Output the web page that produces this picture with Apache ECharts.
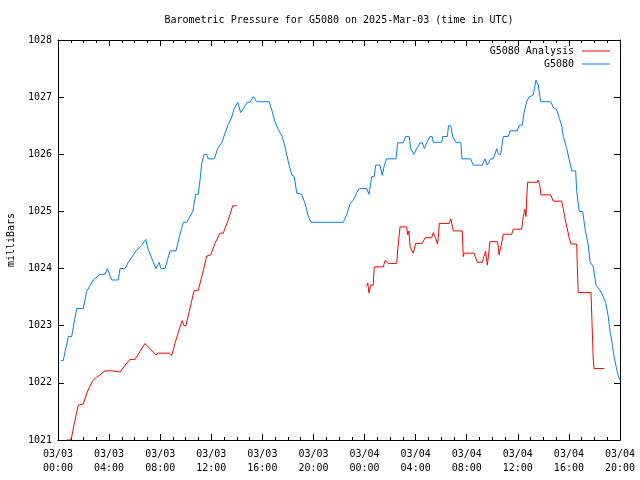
<!DOCTYPE html>
<html><head><meta charset="utf-8">
<script src="https://cdn.jsdelivr.net/npm/echarts@6/dist/echarts.min.js"></script>
<style>html,body{margin:0;padding:0;background:#fff}#c{width:640px;height:480px}</style>
</head><body><div id="c"></div>
<script>
// hours since 2025-03-03 00:00 UTC
const xTickLabels = ["03/03\n00:00","03/03\n04:00","03/03\n08:00","03/03\n12:00","03/03\n16:00","03/03\n20:00","03/04\n00:00","03/04\n04:00","03/04\n08:00","03/04\n12:00","03/04\n16:00","03/04\n20:00"];
const yTicks = [1021,1022,1023,1024,1025,1026,1027,1028];

const blueHours = [0.23,0.41,0.81,1.07,1.46,1.98,2.25,2.76,3.29,3.68,3.86,4.20,4.72,4.85,5.25,5.50,6.11,6.55,6.87,7.07,7.67,7.91,8.06,8.38,8.77,9.24,9.55,9.81,10.08,10.55,10.78,10.98,11.12,11.25,11.43,11.64,11.77,12.24,12.50,12.86,13.07,13.33,13.60,13.80,14.07,14.30,14.51,14.82,15.03,15.29,15.56,16.54,16.73,16.99,17.25,17.56,17.77,18.03,18.30,18.50,18.69,19.08,19.34,19.60,19.81,22.34,22.60,22.86,23.12,23.39,23.59,24.17,24.35,24.48,24.56,24.76,24.87,25.21,25.39,25.55,25.73,26.46,26.59,27.03,27.22,27.50,27.61,27.87,28.08,28.34,28.52,28.68,28.87,29.12,29.30,29.38,30.04,30.12,30.49,30.57,30.74,30.90,31.16,31.53,31.63,32.31,32.51,33.22,33.43,33.61,33.74,33.88,34.08,34.35,34.47,34.66,34.86,35.25,35.39,35.96,36.12,36.35,36.48,36.69,36.87,37.21,37.42,37.60,37.79,38.57,38.78,39.04,39.25,39.43,39.56,39.83,40.03,40.22,40.53,40.61,40.81,41.08,41.26,41.52,41.65,41.91,42.12,42.43,42.69,42.90,43.08,43.22,43.35,43.49,43.70,43.88,44.0];
const bluePressure = [1022.39,1022.39,1022.81,1022.81,1023.30,1023.30,1023.60,1023.80,1023.90,1023.90,1024.0,1023.80,1023.80,1024.0,1024.0,1024.11,1024.31,1024.41,1024.51,1024.33,1024.0,1024.11,1024.0,1024.0,1024.31,1024.31,1024.60,1024.81,1024.81,1025.0,1025.30,1025.30,1025.55,1025.84,1025.99,1026.0,1025.92,1025.92,1026.10,1026.22,1026.37,1026.52,1026.65,1026.80,1026.91,1026.73,1026.80,1026.91,1026.91,1027.01,1026.92,1026.92,1026.78,1026.57,1026.43,1026.31,1026.13,1025.87,1025.64,1025.61,1025.32,1025.30,1025.14,1024.91,1024.81,1024.81,1024.94,1025.13,1025.20,1025.33,1025.40,1025.40,1025.30,1025.30,1025.61,1025.61,1025.81,1025.81,1025.63,1025.81,1025.92,1025.92,1026.20,1026.20,1026.31,1026.31,1026.10,1026.0,1026.1,1026.2,1026.2,1026.1,1026.2,1026.31,1026.31,1026.21,1026.21,1026.31,1026.31,1026.50,1026.50,1026.31,1026.21,1026.21,1025.92,1025.92,1025.81,1025.81,1025.92,1025.81,1025.81,1025.92,1025.92,1026.1,1026.0,1026.0,1026.31,1026.31,1026.41,1026.41,1026.51,1026.51,1026.72,1026.92,1027.0,1027.04,1027.30,1027.21,1026.92,1026.92,1026.82,1026.78,1026.63,1026.51,1026.31,1026.1,1025.90,1025.71,1025.71,1025.35,1025.0,1025.0,1024.70,1024.41,1024.12,1024.03,1023.71,1023.62,1023.51,1023.39,1023.16,1022.90,1022.75,1022.52,1022.28,1022.11,1022.05];

const redHours = [0.68,0.99,1.07,1.25,1.59,1.98,2.29,2.72,3.03,3.29,3.68,4.20,4.33,4.85,5.25,5.64,6.03,6.42,6.81,7.20,7.67,7.85,8.71,8.90,9.16,9.55,9.73,9.86,10.02,10.28,10.65,10.98,11.33,11.64,11.96,12.29,12.68,12.94,13.33,13.68,13.99,19.0,24.17,24.25,24.35,24.48,24.68,24.76,25.47,25.60,25.73,25.86,26.52,26.60,26.78,27.30,27.38,27.48,27.56,27.82,28.00,28.52,28.73,29.26,29.38,29.57,29.70,29.78,29.85,30.64,30.75,30.95,31.65,31.73,31.81,32.57,32.83,33.22,33.35,33.48,33.61,33.69,33.82,34.42,34.53,34.68,34.78,34.86,35.52,35.65,36.30,36.43,36.56,36.64,36.69,36.77,37.52,37.60,37.73,37.81,38.57,38.78,39.43,39.56,39.69,39.87,40.03,40.16,40.61,40.66,40.73,41.73,41.81,41.91,41.97,42.77];
const redPressure = [1021.0,1021.0,1021.05,1021.26,1021.61,1021.63,1021.84,1022.04,1022.10,1022.14,1022.21,1022.21,1022.20,1022.19,1022.31,1022.41,1022.41,1022.55,1022.69,1022.60,1022.49,1022.52,1022.52,1022.48,1022.69,1022.98,1023.09,1023.0,1023.0,1023.25,1023.61,1023.62,1023.92,1024.22,1024.24,1024.44,1024.62,1024.62,1024.85,1025.10,1025.10,null,1023.69,1023.75,1023.57,1023.71,1023.71,1024.03,1024.03,1024.14,1024.16,1024.09,1024.09,1024.34,1024.73,1024.73,1024.59,1024.66,1024.38,1024.27,1024.44,1024.44,1024.54,1024.54,1024.63,1024.53,1024.43,1024.55,1024.79,1024.79,1024.87,1024.66,1024.66,1024.21,1024.27,1024.27,1024.11,1024.11,1024.21,1024.30,1024.06,1024.2,1024.47,1024.47,1024.24,1024.24,1024.50,1024.60,1024.60,1024.69,1024.69,1024.91,1025.04,1024.91,1025.21,1025.51,1025.51,1025.55,1025.45,1025.29,1025.29,1025.18,1025.18,1025.05,1024.88,1024.70,1024.53,1024.43,1024.43,1024.03,1023.58,1023.58,1023.04,1022.40,1022.25,1022.25];

const seriesNames = ["G5080 Analysis","G5080"];
const seriesColors = ["#ff0000","#0080ff"];

const FONT = "DejaVu Sans Mono";
const toPairs = (hs, ps) => hs.map((h, i) => [h, ps[i] === null ? '-' : ps[i]]);

const chart = echarts.init(document.getElementById('c'), null, {renderer: 'canvas'});
const axisCommon = {
  min: 0, max: 44, interval: 4
};
chart.setOption({
  animation: false,
  backgroundColor: '#ffffff',
  title: {
    text: 'Barometric Pressure for G5080 on 2025-Mar-03 (time in UTC)',
    left: 339, top: 15, textAlign: 'center', padding: 0,
    textStyle: {fontFamily: FONT, fontSize: 10, fontWeight: 'normal', color: '#000'}
  },
  legend: {
    orient: 'vertical', right: 30, top: 45, align: 'right', padding: 0,
    itemWidth: 28, itemHeight: 1, itemGap: 1,
    icon: 'rect',
    textStyle: {fontFamily: FONT, fontSize: 10, color: '#000', padding: [0, 3, 0, 0], lineHeight: 12},
    data: seriesNames
  },
  grid: {left: 58, right: 20, top: 40, bottom: 40, containLabel: false, outerBoundsMode: 'none'},
  xAxis: [
    Object.assign({
      type: 'value', position: 'bottom',
      axisLine: {show: true, onZero: false, lineStyle: {color: '#000', width: 1}},
      axisTick: {show: true, inside: true, length: 6, lineStyle: {color: '#000'}},
      minorTick: {show: true, splitNumber: 4, length: 3, lineStyle: {color: '#000'}},
      splitLine: {show: false},
      axisLabel: {
        fontFamily: FONT, fontSize: 10, color: '#000', margin: 7, lineHeight: 14,
        formatter: v => xTickLabels[Math.round(v / 4)]
      }
    }, axisCommon),
    Object.assign({
      type: 'value', position: 'top',
      axisLine: {show: true, onZero: false, lineStyle: {color: '#000', width: 1}},
      axisTick: {show: true, inside: true, length: 6, lineStyle: {color: '#000'}},
      minorTick: {show: true, splitNumber: 4, length: 3, lineStyle: {color: '#000'}},
      splitLine: {show: false},
      axisLabel: {show: false}
    }, axisCommon)
  ],
  yAxis: [
    {
      type: 'value', min: yTicks[0], max: yTicks[yTicks.length - 1], interval: 1, position: 'left',
      name: 'milliBars', nameLocation: 'middle', nameGap: 42, nameRotate: 90,
      nameTextStyle: {fontFamily: FONT, fontSize: 10, color: '#000'},
      axisLine: {show: true, onZero: false, lineStyle: {color: '#000', width: 1}},
      axisTick: {show: true, inside: true, length: 6, lineStyle: {color: '#000'}},
      splitLine: {show: false},
      axisLabel: {fontFamily: FONT, fontSize: 10, color: '#000', margin: 6, formatter: v => String(v)}
    },
    {
      type: 'value', min: yTicks[0], max: yTicks[yTicks.length - 1], interval: 1, position: 'right',
      axisLine: {show: true, onZero: false, lineStyle: {color: '#000', width: 1}},
      axisTick: {show: true, inside: true, length: 6, lineStyle: {color: '#000'}},
      splitLine: {show: false},
      axisLabel: {show: false}
    }
  ],
  series: [
    {
      name: seriesNames[0], type: 'line', xAxisIndex: 0, yAxisIndex: 0,
      data: toPairs(redHours, redPressure), showSymbol: false, symbol: 'none',
      connectNulls: false,
      lineStyle: {color: seriesColors[0], width: 1}, itemStyle: {color: seriesColors[0]}
    },
    {
      name: seriesNames[1], type: 'line', xAxisIndex: 0, yAxisIndex: 0,
      data: toPairs(blueHours, bluePressure), showSymbol: false, symbol: 'none',
      lineStyle: {color: seriesColors[1], width: 1}, itemStyle: {color: seriesColors[1]}
    }
  ]
});
</script>
</body></html>
